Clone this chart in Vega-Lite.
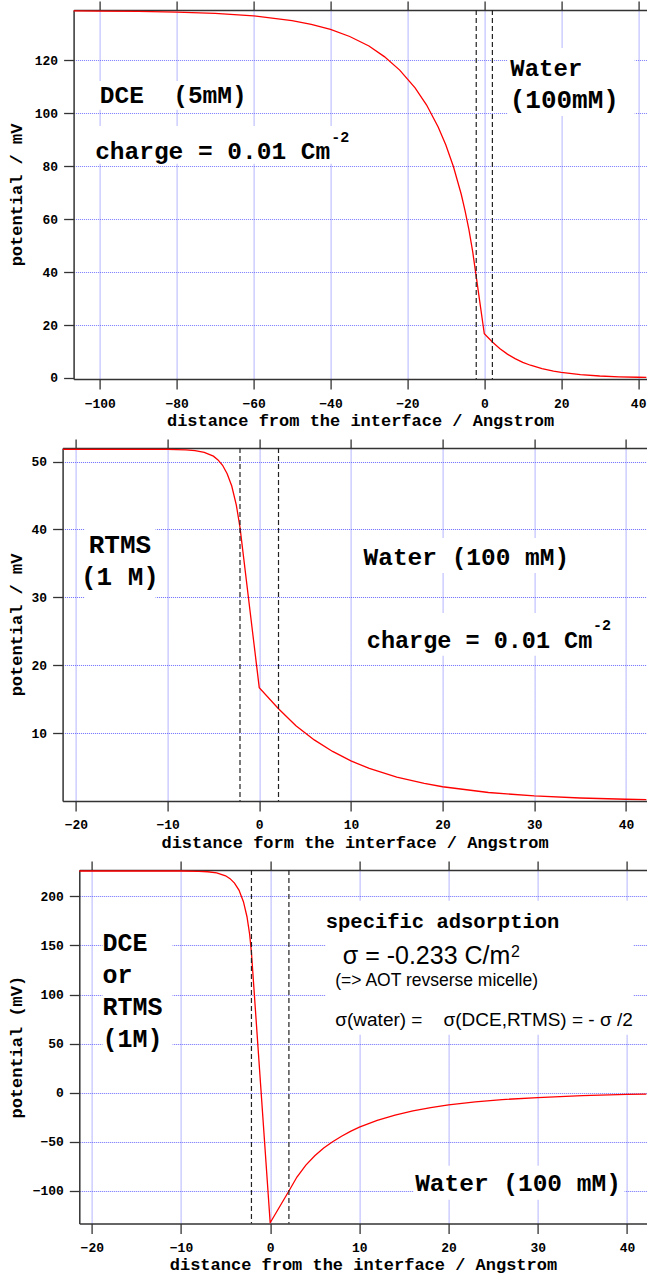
{
  "$schema": "https://vega.github.io/schema/vega-lite/v6.json",
  "padding": {"left": 6.6, "top": 0, "right": 0, "bottom": 0},
  "autosize": {"type": "pad"},
  "bounds": "full",
  "spacing": 9,
  "background": "white",
  "config": {
    "view": {"stroke": null},
    "axis": {
      "labelFont": "Liberation Mono", "labelFontWeight": "bold", "labelFontSize": 13, "labelColor": "#000",
      "titleFont": "Liberation Mono", "titleFontWeight": "bold", "titleFontSize": 17, "titleColor": "#000",
      "domainColor": "#333", "domainWidth": 1.5, "tickColor": "#333", "tickWidth": 1.3,
      "gridColor": "#5a5aff", "gridDash": [1, 1], "gridWidth": 1, "gridOpacity": 0.9,
      "labelFlush": false, "labelOverlap": false
    },
    "axisX": {"tickSize": 10, "labelPadding": 8, "titlePadding": 2.3},
    "axisY": {"tickSize": 10, "labelPadding": 6, "titlePadding": 4}
  },
  "datasets": {
    "c1": [
      {"x": -106.8, "v": 138.7}, {"x": -100, "v": 138.6}, {"x": -90, "v": 138.5}, {"x": -80, "v": 138.2},
      {"x": -70, "v": 137.7}, {"x": -60, "v": 136.8}, {"x": -50, "v": 135.0}, {"x": -45, "v": 133.6},
      {"x": -40, "v": 131.7}, {"x": -35, "v": 129.0}, {"x": -30, "v": 125.4}, {"x": -26, "v": 121.4},
      {"x": -22, "v": 116.3}, {"x": -18, "v": 109.6}, {"x": -15, "v": 103.1}, {"x": -12, "v": 94.8},
      {"x": -10, "v": 88.0}, {"x": -8, "v": 79.7}, {"x": -6, "v": 69.4}, {"x": -5, "v": 63.1},
      {"x": -4, "v": 56.0}, {"x": -3, "v": 47.5}, {"x": -2.1, "v": 38.3}, {"x": 0, "v": 16.7},
      {"x": 2.1, "v": 13.6}, {"x": 4, "v": 11.1}, {"x": 6, "v": 9.0}, {"x": 8, "v": 7.3},
      {"x": 10, "v": 5.9}, {"x": 12, "v": 4.8}, {"x": 15, "v": 3.5}, {"x": 18, "v": 2.6},
      {"x": 20, "v": 2.1}, {"x": 25, "v": 1.25}, {"x": 30, "v": 0.74}, {"x": 35, "v": 0.44},
      {"x": 40, "v": 0.26}, {"x": 42.2, "v": 0.21}
    ],
    "c2": [
      {"x": -21.45, "v": 51.8}, {"x": -10, "v": 51.8}, {"x": -8, "v": 51.72}, {"x": -7, "v": 51.6},
      {"x": -6, "v": 51.36}, {"x": -5, "v": 50.8}, {"x": -4.5, "v": 50.25}, {"x": -4, "v": 49.45},
      {"x": -3.5, "v": 48.2}, {"x": -3, "v": 46.4}, {"x": -2.5, "v": 43.6}, {"x": -2.1, "v": 40.3},
      {"x": 0, "v": 16.7}, {"x": 2.1, "v": 13.6}, {"x": 4, "v": 11.1}, {"x": 6, "v": 9.0},
      {"x": 8, "v": 7.3}, {"x": 10, "v": 5.9}, {"x": 12, "v": 4.8}, {"x": 15, "v": 3.5},
      {"x": 18, "v": 2.6}, {"x": 20, "v": 2.1}, {"x": 25, "v": 1.25}, {"x": 30, "v": 0.74},
      {"x": 35, "v": 0.44}, {"x": 40, "v": 0.26}, {"x": 42.25, "v": 0.21}
    ],
    "c3": [
      {"x": -21.4, "v": 225.8}, {"x": -10, "v": 225.8}, {"x": -8, "v": 225.5}, {"x": -7, "v": 225.0},
      {"x": -6, "v": 223.8}, {"x": -5, "v": 220.9}, {"x": -4.5, "v": 218.0}, {"x": -4, "v": 213.5},
      {"x": -3.5, "v": 206.3}, {"x": -3, "v": 194.5}, {"x": -2.6, "v": 179.2}, {"x": -2.3, "v": 161.1},
      {"x": -2.1, "v": 142.6}, {"x": 0, "v": -132.4}, {"x": 2.1, "v": -100.1}, {"x": 3, "v": -85.9},
      {"x": 4, "v": -73.7}, {"x": 5, "v": -64.3}, {"x": 6, "v": -56.4}, {"x": 7, "v": -49.9},
      {"x": 8, "v": -44.3}, {"x": 9, "v": -39.4}, {"x": 10, "v": -35.0}, {"x": 12, "v": -28.2},
      {"x": 14, "v": -22.9}, {"x": 16, "v": -18.6}, {"x": 18, "v": -15.2}, {"x": 20, "v": -12.5},
      {"x": 23, "v": -9.3}, {"x": 26, "v": -7.0}, {"x": 30, "v": -5.0}, {"x": 35, "v": -3.0},
      {"x": 40, "v": -1.8}, {"x": 42.2, "v": -1.4}
    ],
    "rules": [{"x": -2.1}, {"x": 2.1}],
    "box1": [
      {"x": -101.1, "x2": -61.5, "y": 112.2, "y2": 101.3},
      {"x": -102.1, "x2": -34.5, "y": 95.2, "y2": 80.9},
      {"x": 6.1, "x2": 39.1, "y": 124.6, "y2": 99.0}
    ],
    "box2": [
      {"x": -19.05, "x2": -11.31, "y": 42.0, "y2": 28.7},
      {"x": 10.94, "x2": 34.28, "y": 38.76, "y2": 33.6},
      {"x": 11.48, "x2": 38.64, "y": 27.7, "y2": 21.4}
    ],
    "box3": [
      {"x": -18.8, "x2": -10.95, "y": 181.3, "y2": 32.6},
      {"x": 6.2, "x2": 40.7, "y": 195.5, "y2": 59.1},
      {"x": 16.07, "x2": 39.72, "y": -74.3, "y2": -109.0}
    ]
  },
  "vconcat": [
    {
      "width": 584, "height": 369,
      "resolve": {"axis": {"x": "independent", "y": "independent"}},
      "layer": [
        {
          "data": {"name": "c1"},
          "mark": {"type": "line", "color": "#ff0000", "strokeWidth": 1.3, "clip": true},
          "encoding": {
            "x": {"field": "x", "type": "quantitative", "scale": {"domain": [-106.8, 42.2], "range": [11, 584], "nice": false, "zero": false},
                  "axis": {"title": "distance from the interface / Angstrom", "values": [-100, -80, -60, -40, -20, 0, 20, 40]}},
            "y": {"field": "v", "type": "quantitative", "scale": {"domain": [-0.4, 139], "nice": false, "zero": false},
                  "axis": {"title": "potential / mV", "values": [0, 20, 40, 60, 80, 100, 120], "minExtent": 44.4, "maxExtent": 44.4, "offset": -11,
                           "gridOpacity": {"condition": {"test": "datum.value === 0", "value": 0}, "value": 0.9}}}
          }
        },
        {
          "data": {"name": "box1"},
          "mark": {"type": "rect", "color": "#ffffff"},
          "encoding": {"x": {"field": "x", "type": "quantitative", "axis": null}, "x2": {"field": "x2"}, "y": {"field": "y", "type": "quantitative", "axis": null}, "y2": {"field": "y2"}}
        },
        {
          "data": {"name": "rules"},
          "mark": {"type": "rule", "color": "#222", "strokeDash": [5, 3], "strokeWidth": 1.2},
          "encoding": {
            "x": {"field": "x", "type": "quantitative",
                  "axis": {"orient": "top", "labels": false, "title": null, "grid": false, "tickSize": 9, "values": [-100, -80, -60, -40, -20, 0, 20, 40]}}
          }
        },
        {
          "data": {"values": [{"x": -100, "y": 104.0, "t": "DCE\u00a0\u00a0(5mM)"}, {"x": -101.2, "y": 82.7, "t": "charge = 0.01 Cm"}]},
          "mark": {"type": "text", "font": "Liberation Mono", "fontWeight": "bold", "fontSize": 24.5, "align": "left", "baseline": "alphabetic", "color": "#000"},
          "encoding": {"x": {"field": "x", "type": "quantitative", "axis": null}, "y": {"field": "y", "type": "quantitative", "axis": null}, "text": {"field": "t"}}
        },
        {
          "data": {"values": [{"x": 6.76, "y": 114.1, "t": "Water"}]},
          "mark": {"type": "text", "font": "Liberation Mono", "fontWeight": "bold", "fontSize": 24, "align": "left", "baseline": "alphabetic", "color": "#000"},
          "encoding": {"x": {"field": "x", "type": "quantitative", "axis": null}, "y": {"field": "y", "type": "quantitative", "axis": null}, "text": {"field": "t"}}
        },
        {
          "data": {"values": [{"x": 6.6, "y": 102.1, "t": "(100mM)"}]},
          "mark": {"type": "text", "font": "Liberation Mono", "fontWeight": "bold", "fontSize": 26, "align": "left", "baseline": "alphabetic", "color": "#000"},
          "encoding": {"x": {"field": "x", "type": "quantitative", "axis": null}, "y": {"field": "y", "type": "quantitative", "axis": null}, "text": {"field": "t"}}
        },
        {
          "data": {"values": [{"x": -39.8, "y": 89.0, "t": "-2"}]},
          "mark": {"type": "text", "font": "Liberation Mono", "fontWeight": "bold", "fontSize": 15, "align": "left", "baseline": "alphabetic", "color": "#000"},
          "encoding": {"x": {"field": "x", "type": "quantitative", "axis": null}, "y": {"field": "y", "type": "quantitative", "axis": null}, "text": {"field": "t"}}
        }
      ]
    },
    {
      "width": 584, "height": 353,
      "resolve": {"axis": {"x": "independent", "y": "independent"}},
      "layer": [
        {
          "data": {"name": "c2"},
          "mark": {"type": "line", "color": "#ff0000", "strokeWidth": 1.3, "clip": true},
          "encoding": {
            "x": {"field": "x", "type": "quantitative", "scale": {"domain": [-21.45, 42.25], "range": [0, 584], "nice": false, "zero": false},
                  "axis": {"title": "distance form the interface / Angstrom", "values": [-20, -10, 0, 10, 20, 30, 40]}},
            "y": {"field": "v", "type": "quantitative", "scale": {"domain": [0, 52], "nice": false, "zero": false},
                  "axis": {"title": "potential / mV", "values": [10, 20, 30, 40, 50], "minExtent": 33.4, "maxExtent": 33.4}}
          }
        },
        {
          "data": {"name": "box2"},
          "mark": {"type": "rect", "color": "#ffffff"},
          "encoding": {"x": {"field": "x", "type": "quantitative", "axis": null}, "x2": {"field": "x2"}, "y": {"field": "y", "type": "quantitative", "axis": null}, "y2": {"field": "y2"}}
        },
        {
          "data": {"name": "rules"},
          "mark": {"type": "rule", "color": "#222", "strokeDash": [5, 3], "strokeWidth": 1.2},
          "encoding": {
            "x": {"field": "x", "type": "quantitative",
                  "axis": {"orient": "top", "labels": false, "title": null, "grid": false, "tickSize": 9, "values": [-20, -10, 0, 10, 20, 30, 40]}}
          }
        },
        {
          "data": {"values": [{"x": -15.2, "y": 36.6, "t": "RTMS"}, {"x": -15.2, "y": 31.8, "t": "(1 M)"}]},
          "mark": {"type": "text", "font": "Liberation Mono", "fontWeight": "bold", "fontSize": 26, "align": "center", "baseline": "alphabetic", "color": "#000"},
          "encoding": {"x": {"field": "x", "type": "quantitative", "axis": null}, "y": {"field": "y", "type": "quantitative", "axis": null}, "text": {"field": "t"}}
        },
        {
          "data": {"values": [{"x": 11.37, "y": 34.8, "t": "Water (100 mM)"}]},
          "mark": {"type": "text", "font": "Liberation Mono", "fontWeight": "bold", "fontSize": 24.5, "align": "left", "baseline": "alphabetic", "color": "#000"},
          "encoding": {"x": {"field": "x", "type": "quantitative", "axis": null}, "y": {"field": "y", "type": "quantitative", "axis": null}, "text": {"field": "t"}}
        },
        {
          "data": {"values": [{"x": 11.73, "y": 22.6, "t": "charge = 0.01 Cm"}]},
          "mark": {"type": "text", "font": "Liberation Mono", "fontWeight": "bold", "fontSize": 23.5, "align": "left", "baseline": "alphabetic", "color": "#000"},
          "encoding": {"x": {"field": "x", "type": "quantitative", "axis": null}, "y": {"field": "y", "type": "quantitative", "axis": null}, "text": {"field": "t"}}
        },
        {
          "data": {"values": [{"x": 36.4, "y": 25.2, "t": "-2"}]},
          "mark": {"type": "text", "font": "Liberation Mono", "fontWeight": "bold", "fontSize": 15, "align": "left", "baseline": "alphabetic", "color": "#000"},
          "encoding": {"x": {"field": "x", "type": "quantitative", "axis": null}, "y": {"field": "y", "type": "quantitative", "axis": null}, "text": {"field": "t"}}
        }
      ]
    },
    {
      "width": 584, "height": 353.4,
      "resolve": {"axis": {"x": "independent", "y": "independent"}},
      "layer": [
        {
          "data": {"name": "c3"},
          "mark": {"type": "line", "color": "#ff0000", "strokeWidth": 1.3, "clip": true},
          "encoding": {
            "x": {"field": "x", "type": "quantitative", "scale": {"domain": [-21.4, 42.2], "range": [16.7, 584], "nice": false, "zero": false},
                  "axis": {"title": "distance from the interface / Angstrom", "values": [-20, -10, 0, 10, 20, 30, 40]}},
            "y": {"field": "v", "type": "quantitative", "scale": {"domain": [-133.1, 226.8], "nice": false, "zero": false},
                  "axis": {"title": "potential (mV)", "values": [-100, -50, 0, 50, 100, 150, 200], "minExtent": 50.1, "maxExtent": 50.1, "offset": -16.7}}
          }
        },
        {
          "data": {"name": "box3"},
          "mark": {"type": "rect", "color": "#ffffff"},
          "encoding": {"x": {"field": "x", "type": "quantitative", "axis": null}, "x2": {"field": "x2"}, "y": {"field": "y", "type": "quantitative", "axis": null}, "y2": {"field": "y2"}}
        },
        {
          "data": {"name": "rules"},
          "mark": {"type": "rule", "color": "#222", "strokeDash": [5, 3], "strokeWidth": 1.2},
          "encoding": {
            "x": {"field": "x", "type": "quantitative",
                  "axis": {"orient": "top", "labels": false, "title": null, "grid": false, "tickSize": 9, "values": [-20, -10, 0, 10, 20, 30, 40]}}
          }
        },
        {
          "data": {"values": [{"x": -18.8, "y": 144, "t": "DCE"}, {"x": -18.8, "y": 111.7, "t": "or"}, {"x": -18.8, "y": 78.7, "t": "RTMS"}, {"x": -18.8, "y": 46.8, "t": "(1M)"}]},
          "mark": {"type": "text", "font": "Liberation Mono", "fontWeight": "bold", "fontSize": 25, "align": "left", "baseline": "alphabetic", "color": "#000"},
          "encoding": {"x": {"field": "x", "type": "quantitative", "axis": null}, "y": {"field": "y", "type": "quantitative", "axis": null}, "text": {"field": "t"}}
        },
        {
          "data": {"values": [{"x": 6.23, "y": 168, "t": "specific adsorption"}]},
          "mark": {"type": "text", "font": "Liberation Mono", "fontWeight": "bold", "fontSize": 20.5, "align": "left", "baseline": "alphabetic", "color": "#000"},
          "encoding": {"x": {"field": "x", "type": "quantitative", "axis": null}, "y": {"field": "y", "type": "quantitative", "axis": null}, "text": {"field": "t"}}
        },
        {
          "data": {"values": [{"x": 8.14, "y": 130.7, "t": "σ = -0.233 C/m"}]},
          "mark": {"type": "text", "font": "Liberation Sans", "fontSize": 25, "align": "left", "baseline": "alphabetic", "color": "#000"},
          "encoding": {"x": {"field": "x", "type": "quantitative", "axis": null}, "y": {"field": "y", "type": "quantitative", "axis": null}, "text": {"field": "t"}}
        },
        {
          "data": {"values": [{"x": 27.0, "y": 138.0, "t": "2"}]},
          "mark": {"type": "text", "font": "Liberation Sans", "fontSize": 16, "align": "left", "baseline": "alphabetic", "color": "#000"},
          "encoding": {"x": {"field": "x", "type": "quantitative", "axis": null}, "y": {"field": "y", "type": "quantitative", "axis": null}, "text": {"field": "t"}}
        },
        {
          "data": {"values": [{"x": 7.3, "y": 108.7, "t": "(=> AOT revserse micelle)"}]},
          "mark": {"type": "text", "font": "Liberation Sans", "fontSize": 17.5, "align": "left", "baseline": "alphabetic", "color": "#000"},
          "encoding": {"x": {"field": "x", "type": "quantitative", "axis": null}, "y": {"field": "y", "type": "quantitative", "axis": null}, "text": {"field": "t"}}
        },
        {
          "data": {"values": [{"x": 7.3, "y": 67.9, "t": "σ(water) =\u00a0\u00a0\u00a0 σ(DCE,RTMS) = - σ /2"}]},
          "mark": {"type": "text", "font": "Liberation Sans", "fontSize": 19, "align": "left", "baseline": "alphabetic", "color": "#000"},
          "encoding": {"x": {"field": "x", "type": "quantitative", "axis": null}, "y": {"field": "y", "type": "quantitative", "axis": null}, "text": {"field": "t"}}
        },
        {
          "data": {"values": [{"x": 16.25, "y": -100.1, "t": "Water (100 mM)"}]},
          "mark": {"type": "text", "font": "Liberation Mono", "fontWeight": "bold", "fontSize": 24.5, "align": "left", "baseline": "alphabetic", "color": "#000"},
          "encoding": {"x": {"field": "x", "type": "quantitative", "axis": null}, "y": {"field": "y", "type": "quantitative", "axis": null}, "text": {"field": "t"}}
        }
      ]
    }
  ]
}
